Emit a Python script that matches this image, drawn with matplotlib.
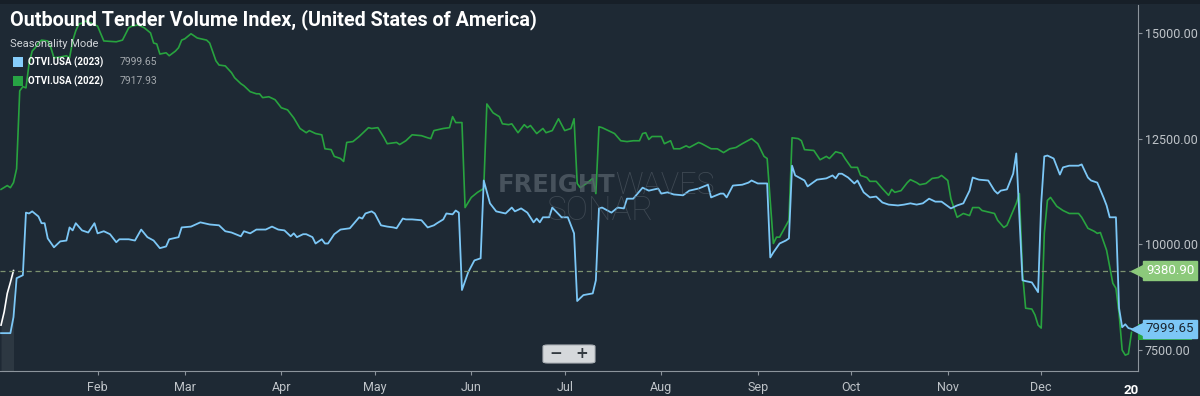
import matplotlib
matplotlib.use('Agg')
import matplotlib.pyplot as plt
from matplotlib.patches import Rectangle, FancyBboxPatch
import pandas as pd

# --- data (day offset from Jan 1, index value) ---
days_2023 = [0, 3, 4, 5, 7, 8, 9, 10, 12, 13, 14, 15, 17, 19, 21, 22, 23, 24, 26, 28, 30, 31, 33, 35, 37, 38,
             41, 43, 45, 47, 49, 51, 53, 54, 57, 58, 61, 64, 67, 70, 72, 74, 77, 78, 80, 82, 85, 87, 89, 91,
             93, 94, 95, 97, 98, 100, 101, 103, 104, 105, 107, 109, 112, 115, 116, 117, 119, 120, 122, 124,
             126, 127, 129, 130, 132, 135, 137, 139, 140, 142, 143, 145, 146, 147, 148, 150, 152, 154, 155,
             157, 159, 162, 164, 165, 167, 169, 171, 172, 173, 174, 176, 177, 180, 182, 184, 185, 187, 190,
             191, 192, 193, 196, 198, 200, 201, 203, 206, 208, 211, 212, 214, 216, 219, 221, 224, 227, 228,
             231, 232, 233, 235, 238, 240, 241, 243, 246, 247, 248, 250, 252, 253, 254, 255, 258, 259, 262,
             265, 267, 268, 269, 270, 272, 274, 275, 277, 279, 281, 283, 285, 288, 290, 292, 294, 296, 298,
             300, 302, 305, 307, 309, 311, 312, 314, 317, 319, 320, 321, 323, 325, 326, 328, 329, 331, 333,
             334, 335, 336, 338, 340, 341, 343, 346, 347, 349, 350, 352, 354, 355, 356, 358, 359, 360, 361,
             362, 363]
otvi_2023 = [7900, 7900, 8280, 9200, 9270, 10750, 10730, 10780, 10660, 10500, 10500, 10140, 9930, 10070,
             10090, 10400, 10330, 10500, 10330, 10280, 10500, 10260, 10310, 10240, 10050, 10120, 10120, 10090,
             10350, 10170, 10090, 9910, 9950, 10120, 10170, 10400, 10420, 10520, 10470, 10450, 10310, 10280,
             10190, 10310, 10260, 10350, 10350, 10420, 10350, 10330, 10190, 10260, 10170, 10240, 10240, 10170,
             10020, 10120, 10020, 10020, 10240, 10350, 10380, 10640, 10610, 10730, 10780, 10730, 10450, 10420,
             10400, 10380, 10610, 10590, 10590, 10570, 10400, 10450, 10500, 10590, 10730, 10710, 10800, 10750,
             8920, 9340, 9620, 9670, 11510, 10970, 10780, 10730, 10870, 10780, 10850, 10750, 10520, 10610,
             10520, 10640, 10640, 10870, 10640, 10640, 10260, 8660, 8800, 8840, 9150, 10850, 10870, 10750,
             10870, 10850, 11080, 11080, 11340, 11270, 11320, 11200, 11230, 11180, 11160, 11270, 11320, 11410,
             11110, 11200, 11200, 11110, 11390, 11410, 11460, 11510, 11440, 11440, 9690, 9810, 10020, 10090,
             10140, 11860, 11630, 11510, 11370, 11530, 11560, 11630, 11560, 11670, 11670, 11580, 11440, 11510,
             11230, 11110, 11130, 10990, 10940, 10920, 10940, 10970, 10940, 10970, 11080, 11010, 11010, 10850,
             10920, 10970, 11270, 11580, 11530, 11510, 11270, 11200, 11270, 11300, 11670, 12150, 9150, 9130,
             9100, 8870, 10970, 12080, 12100, 12030, 11650, 11820, 11860, 11860, 11890, 11580, 11510, 11460,
             11110, 10920, 10640, 10640, 8490, 8040, 8110, 8020, 7999.65]

days_2022 = [0, 2, 3, 4, 5, 6, 7, 8, 9, 10, 11, 12, 13, 15, 16, 17, 19, 21, 22, 23, 24, 25, 26, 27, 29, 31,
             33, 37, 39, 41, 42, 44, 46, 48, 49, 50, 51, 53, 54, 56, 57, 58, 59, 61, 63, 66, 67, 69, 70, 72,
             74, 75, 77, 78, 80, 82, 83, 84, 86, 88, 90, 92, 94, 96, 98, 99, 101, 103, 104, 106, 107, 109,
             110, 111, 113, 115, 118, 119, 121, 123, 124, 127, 128, 130, 132, 135, 137, 138, 139, 142, 144,
             145, 146, 148, 149, 151, 153, 155, 156, 158, 160, 161, 163, 164, 166, 168, 169, 170, 172, 174,
             175, 177, 179, 181, 183, 184, 185, 186, 188, 190, 191, 192, 193, 197, 199, 201, 203, 205, 206,
             207, 208, 209, 212, 213, 215, 216, 218, 220, 221, 224, 225, 228, 230, 232, 234, 236, 238, 241,
             243, 245, 246, 248, 249, 250, 253, 254, 256, 257, 258, 261, 263, 265, 266, 268, 270, 271, 273,
             275, 276, 278, 279, 281, 283, 285, 286, 287, 289, 291, 292, 294, 295, 297, 299, 301, 302, 304,
             305, 307, 309, 311, 312, 314, 315, 319, 320, 322, 323, 326, 327, 328, 329, 331, 332, 333, 334,
             335, 336, 337, 339, 341, 343, 346, 347, 349, 351, 352, 353, 355, 357, 358, 359, 360, 361, 362,
             363]
otvi_2022 = [11300, 11390, 11340, 11460, 11790, 13630, 13730, 13700, 14270, 14570, 14650, 14760, 14830, 14810,
             14650, 14410, 14430, 14460, 14410, 14810, 15050, 15210, 15230, 15280, 15230, 15160, 14810, 14790,
             14830, 15120, 15160, 15190, 15120, 15000, 14760, 14740, 14500, 14530, 14460, 14570, 14650, 14830,
             14860, 14980, 14880, 14830, 14760, 14340, 14240, 14220, 14060, 13940, 13800, 13750, 13610, 13560,
             13560, 13470, 13490, 13420, 13230, 13180, 12990, 12740, 12640, 12690, 12620, 12590, 12260, 12240,
             12080, 12030, 11960, 12410, 12430, 12550, 12760, 12740, 12760, 12520, 12380, 12410, 12360, 12450,
             12590, 12570, 12520, 12500, 12690, 12740, 12760, 13020, 12880, 12880, 10870, 11110, 11230, 11320,
             13320, 13110, 13020, 12850, 12830, 12850, 12640, 12830, 12760, 12810, 12620, 12740, 12640, 12690,
             12970, 12690, 12740, 12970, 11440, 11340, 11440, 11560, 11200, 12780, 12760, 12620, 12450, 12430,
             12450, 12450, 12620, 12640, 12480, 12550, 12550, 12380, 12450, 12260, 12260, 12330, 12290, 12410,
             12380, 12260, 12260, 12170, 12260, 12290, 12380, 12500, 12380, 12080, 12030, 10020, 10170, 10170,
             10570, 12520, 12500, 12450, 12240, 12220, 12000, 12080, 12030, 12190, 12150, 12030, 11820, 11820,
             11630, 11580, 11490, 11490, 11320, 11160, 11300, 11230, 11270, 11460, 11530, 11460, 11410, 11440,
             11560, 11580, 11630, 11510, 11080, 10640, 10730, 10680, 10870, 10870, 10800, 10730, 10570, 10400,
             10450, 10970, 11200, 9320, 8490, 8470, 8330, 8090, 8020, 10260, 11040, 11110, 10900, 10800,
             10730, 10730, 10640, 10380, 10310, 10260, 10280, 9860, 9080, 8960, 8370, 7500, 7380, 7410,
             7917.93]

days_2024 = [0, 1, 2, 3, 4]
otvi_2024 = [8090, 8400, 8840, 9100, 9380.90]

month_labels = ['Feb', 'Mar', 'Apr', 'May', 'Jun', 'Jul', 'Aug', 'Sep', 'Oct', 'Nov', 'Dec']

BG = '#1e2934'
BLUE = '#7cc7f6'
GREEN = '#28a33f'
TAG_GREEN = '#8cc97b'
TXT = '#bfc4c9'
FONT = 'Roboto'

start = pd.Timestamp('2023-01-01')
def to_dates(d):
    return start + pd.to_timedelta(d, unit='D')

fig = plt.figure(figsize=(12, 3.96), dpi=100, facecolor=BG)
# darker strip along the top edge
fig.patches.append(Rectangle((0, 1 - 4 / 396), 1, 4 / 396, transform=fig.transFigure,
                             fc='#171f28', ec='none'))
ax = fig.add_axes([0, 25 / 396, 1138 / 1200, 366 / 396])
ax.set_facecolor(BG)

d24 = to_dates(days_2024)
ax.fill_between(d24, otvi_2024, 7000, color='white', alpha=0.07, lw=0)
ax.plot(to_dates(days_2022), otvi_2022, color=GREEN, lw=1.2)
ax.plot(to_dates(days_2023), otvi_2023, color=BLUE, lw=1.3)
ax.plot(d24, otvi_2024, color='white', lw=1.2)

ax.axhline(otvi_2024[-1], color='#7d9270', lw=0.9, ls=(0, (4, 3)))

ax.set_xlim(start - pd.Timedelta(hours=8), pd.Timestamp('2024-01-01') + pd.Timedelta(hours=2))
ax.set_ylim(7005, 15660)

for s in ['left', 'top']:
    ax.spines[s].set_visible(False)
ax.spines['right'].set_color('#8c949c')
ax.spines['bottom'].set_color('#8c949c')
ax.yaxis.tick_right()
yt = [7500, 10000, 12500, 15000]
ax.set_yticks(yt)
ax.set_yticklabels(['%.2f' % v for v in yt], family=FONT)
ax.tick_params(axis='y', colors='#8c949c', labelcolor=TXT, labelsize=9, length=3, pad=2)
mticks = [pd.Timestamp(2023, m, 1) for m in range(2, 13)]
ax.set_xticks(mticks)
ax.set_xticklabels(month_labels, family=FONT)
ax.tick_params(axis='x', colors='#8c949c', labelcolor=TXT, labelsize=9, length=3, pad=4)
ax.text(pd.Timestamp('2023-12-30'), -0.035, '20', transform=ax.get_xaxis_transform(),
        ha='center', va='top', color='white', fontsize=9.5, fontweight='bold', family=FONT)

# last-value tags on the right axis (2022 tag sits hidden under the 2023 one)
ytr = ax.get_yaxis_transform()
v22 = otvi_2022[-1]
ax.add_patch(Rectangle((1.0, v22 - 190), 0.0475, 380, transform=ytr, fc=GREEN, ec='none',
                       clip_on=False, zorder=4))
for val, fc, tc in [(otvi_2024[-1], TAG_GREEN, 'white'), (otvi_2023[-1], BLUE, '#1d2833')]:
    ax.plot([1.0], [val], marker='<', ms=10, color=fc, transform=ytr, clip_on=False, zorder=5)
    ax.text(1.007, val, '%.2f' % val, transform=ytr, ha='left', va='center',
            fontsize=9.5, color=tc, zorder=6, family=FONT,
            bbox=dict(boxstyle='square,pad=0.2', fc=fc, ec=fc))

# watermark
wm = '#56606a'
ax.text(0.5404, 0.508, 'FREIGHT', transform=ax.transAxes, ha='right', va='center', fontsize=17.5,
        fontweight='bold', color=wm, alpha=0.75)
ax.text(0.5404, 0.508, 'WAVES', transform=ax.transAxes, ha='left', va='center', fontsize=22,
        fontweight='light', color=wm, alpha=0.6, family=FONT)
ax.text(0.527, 0.437, 'SONAR', transform=ax.transAxes, ha='center', va='center', fontsize=24,
        fontweight='light', color=wm, alpha=0.55, family=FONT)

# zoom buttons
btn = FancyBboxPatch((543 / 1200, 1 - 363 / 396), 52 / 1200, 18 / 396,
                     boxstyle='round,pad=0,rounding_size=0.004',
                     transform=fig.transFigure, fc='#d5d8db', ec='#aeb3b8', lw=0.8, zorder=10)
fig.patches.append(btn)
fig.text(556 / 1200, 1 - 354 / 396, '\u2212', ha='center', va='center', fontsize=11, color='#333a40',
         fontweight='bold', zorder=11)
fig.text(582 / 1200, 1 - 354 / 396, '+', ha='center', va='center', fontsize=11, color='#333a40',
         fontweight='bold', zorder=11)

# title and legend
fig.text(10 / 1200, 1 - 20 / 396, 'Outbound Tender Volume Index, (United States of America)',
         ha='left', va='center', fontsize=14.2, fontweight='bold', color='white', family=FONT)
fig.text(10 / 1200, 1 - 44 / 396, 'Seasonality Mode', ha='left', va='center', fontsize=8,
         color='#d0d4d8', family=FONT)
legend_rows = [('OTVI.USA (2023)', otvi_2023[-1], '#86cdfb'), ('OTVI.USA (2022)', otvi_2022[-1], '#27a444')]
for i, (name, val, c) in enumerate(legend_rows):
    yc = 62 + 19 * i
    fig.patches.append(Rectangle((13 / 1200, 1 - (yc + 5) / 396), 10 / 1200, 10 / 396,
                                 transform=fig.transFigure, fc=c, ec='none'))
    fig.text(28 / 1200, 1 - yc / 396, name, ha='left', va='center', fontsize=7, fontweight='bold',
             color='white', family=FONT)
    fig.text(157 / 1200, 1 - yc / 396, '%.2f' % val, ha='right', va='center', fontsize=7.5,
             color='#a3a8ad', family=FONT)

plt.savefig('out.png', dpi=100, facecolor=fig.get_facecolor())
